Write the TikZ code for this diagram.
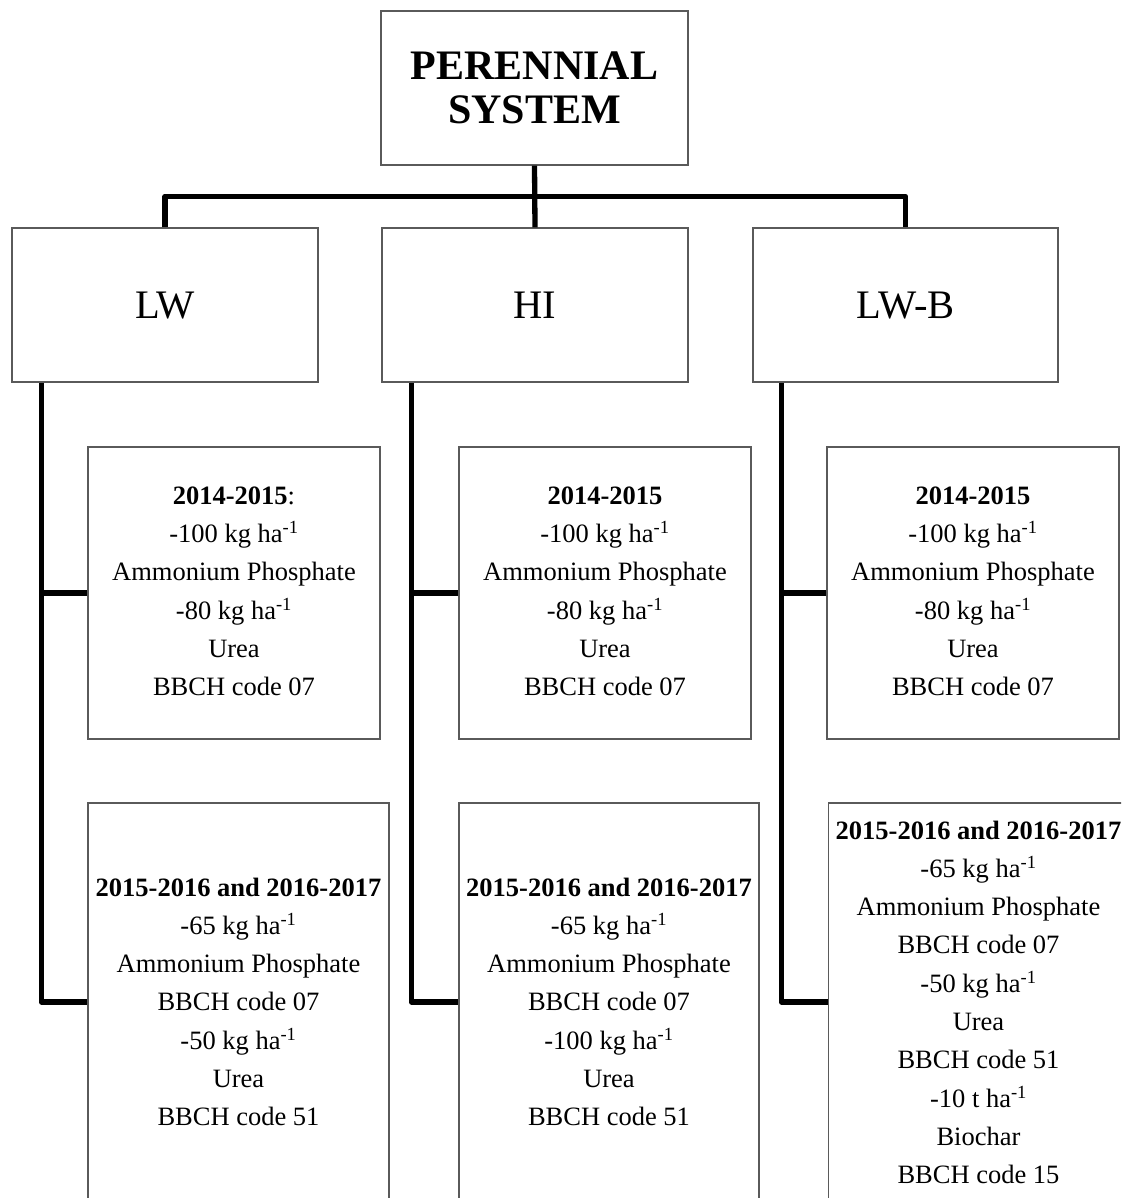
\documentclass[tikz,border=0pt]{standalone}
\usepackage{fontspec}
\setmainfont{Liberation Serif}
\definecolor{boxgray}{RGB}{90,90,90}
\begin{document}
\begin{tikzpicture}[x=1pt,y=-1pt,
  box/.style={draw=boxgray,line width=1.2pt,inner sep=0pt,fill=white},
  conn/.style={line width=5.3pt,black,line join=round},
  body/.style={align=center,inner sep=0pt,anchor=north,font=\fontsize{26.5}{38.3}\selectfont},
  head/.style={font=\fontsize{40.5}{44}\selectfont,text height=27pt,text depth=0pt}]
\useasboundingbox (0,0) rectangle (1121,1198);
\clip (0,0) rectangle (1121,1198);
\fill[white] (0,0) rectangle (1121,1198);

% boxes
\node[box,minimum width=307pt,minimum height=154pt,align=center,
      font=\fontsize{42}{43.4}\selectfont\bfseries] (top) at (534.5,88) {PERENNIAL\\SYSTEM};
\node[box,head,minimum width=306pt,minimum height=154pt] (lw)  at (165,305)   {LW};
\node[box,head,minimum width=306pt,minimum height=154pt] (hi)  at (535,305)   {HI};
\node[box,head,minimum width=305pt,minimum height=154pt] (lwb) at (905.5,305) {LW-B};

\node[box,minimum width=292pt,minimum height=292pt] (lwc1)  at (234,593) {};
\node[box,minimum width=292pt,minimum height=292pt] (hic1)  at (605,593) {};
\node[box,minimum width=292pt,minimum height=292pt] (lwbc1) at (973,593) {};

\node[box,minimum width=301pt,minimum height=398pt] (lwc2)  at (238.5,1002) {};
\node[box,minimum width=300pt,minimum height=398pt] (hic2)  at (609,1002) {};
\node[box,minimum width=300pt,minimum height=398pt] (lwbc2) at (978.5,1002) {};

% texts
\node[body] (lwt1) at ([yshift=-40pt]lwc1.north)
  {\textbf{2014-2015}:\\-100 kg ha\textsuperscript{-1}\\Ammonium Phosphate\\-80 kg ha\textsuperscript{-1}\\Urea\\BBCH code 07};
\node[body] (hit1) at ([yshift=-40pt]hic1.north)
  {\textbf{2014-2015}\\-100 kg ha\textsuperscript{-1}\\Ammonium Phosphate\\-80 kg ha\textsuperscript{-1}\\Urea\\BBCH code 07};
\node[body] (lwbt1) at ([yshift=-40pt]lwbc1.north)
  {\textbf{2014-2015}\\-100 kg ha\textsuperscript{-1}\\Ammonium Phosphate\\-80 kg ha\textsuperscript{-1}\\Urea\\BBCH code 07};

\node[body] (lwt2) at ([yshift=-75pt]lwc2.north)
  {\textbf{2015-2016 and 2016-2017}\\-65 kg ha\textsuperscript{-1}\\Ammonium Phosphate\\BBCH code 07\\-50 kg ha\textsuperscript{-1}\\Urea\\BBCH code 51};
\node[body] (hit2) at ([yshift=-75pt]hic2.north)
  {\textbf{2015-2016 and 2016-2017}\\-65 kg ha\textsuperscript{-1}\\Ammonium Phosphate\\BBCH code 07\\-100 kg ha\textsuperscript{-1}\\Urea\\BBCH code 51};
\node[body] (lwbt2) at ([yshift=-18pt]lwbc2.north)
  {\textbf{2015-2016 and 2016-2017}\\-65 kg ha\textsuperscript{-1}\\Ammonium Phosphate\\BBCH code 07\\-50 kg ha\textsuperscript{-1}\\Urea\\BBCH code 51\\-10 t ha\textsuperscript{-1}\\Biochar\\BBCH code 15};

% connectors
\draw[conn] (top.south) -- (hi.north);
\draw[conn] (lw.north) -- ++(0,-31) -| (lwb.north);

\draw[conn] ([xshift=30pt]lw.south west) |- (lwc2.west);
\draw[conn] (lwc1.west) -- ++(-46,0);

\draw[conn] ([xshift=30pt]hi.south west) |- (hic2.west);
\draw[conn] (hic1.west) -- ++(-47,0);

\draw[conn] ([xshift=29pt]lwb.south west) |- (lwbc2.west);
\draw[conn] (lwbc1.west) -- ++(-45,0);
\end{tikzpicture}
\end{document}
